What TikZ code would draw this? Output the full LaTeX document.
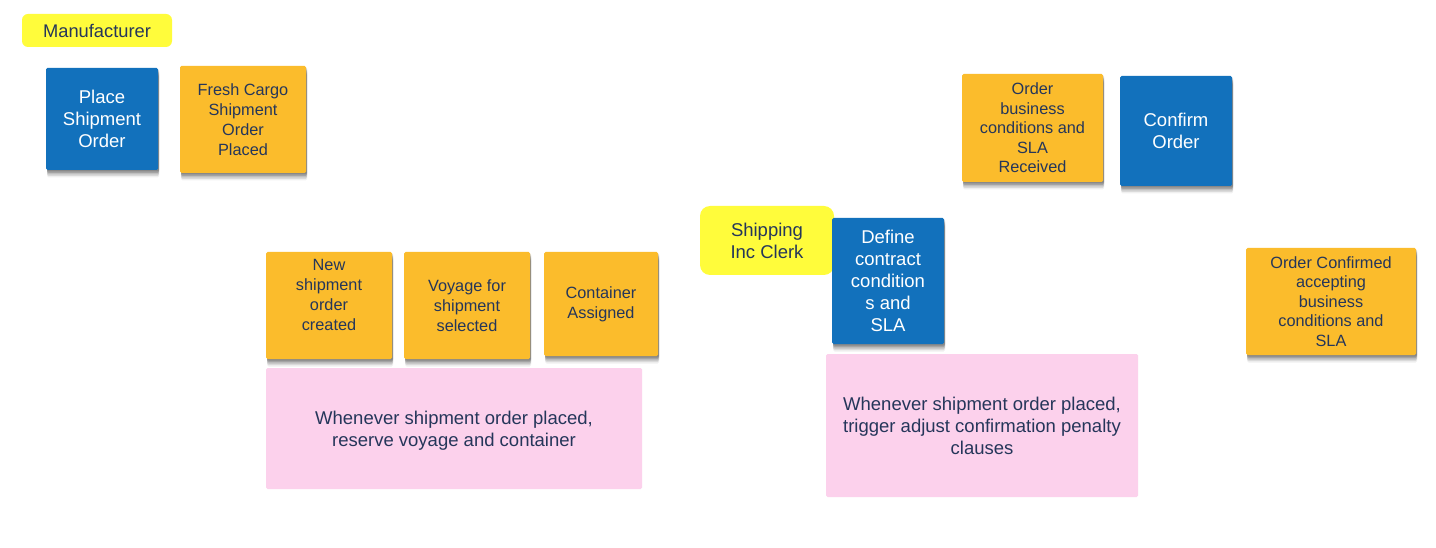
\documentclass[tikz,border=0pt]{standalone}
\usepackage{fontspec}
\setmainfont{Liberation Sans}
\usetikzlibrary{shadows}
\definecolor{stblue}{HTML}{1271BC}
\definecolor{storange}{HTML}{FBBC2C}
\definecolor{styellow}{HTML}{FFFC3B}
\definecolor{stpink}{HTML}{FCD1EC}
\definecolor{navy}{HTML}{25365A}
\tikzset{
  sticky/.style={inner sep=0pt, align=center, rounded corners=1.5pt},
  shad/.style={
    general shadow={fill=black, opacity=0.16, shadow xshift=1pt, shadow yshift=-1.5pt},
    general shadow={fill=black, opacity=0.14, shadow xshift=1pt, shadow yshift=-3pt},
    general shadow={fill=black, opacity=0.12, shadow xshift=1pt, shadow yshift=-4.5pt},
    general shadow={fill=black, opacity=0.09, shadow xshift=1pt, shadow yshift=-6pt},
    general shadow={fill=black, opacity=0.06, shadow xshift=1pt, shadow yshift=-7.5pt}},
  command/.style={sticky, shad, fill=stblue, text=white, font=\fontsize{18.5}{22}\selectfont},
  event/.style={sticky, shad, fill=storange, text=navy, font=\fontsize{16.3}{20}\selectfont},
  actor/.style={sticky, fill=styellow, text=navy, rounded corners=10pt},
  policy/.style={sticky, fill=stpink, text=navy, font=\fontsize{18.5}{22}\selectfont},
}
\begin{document}
\begin{tikzpicture}[x=1pt,y=-1pt]
\useasboundingbox (0,0) rectangle (1436,548);
\fill[white] (0,0) rectangle (1436,548);
% Manufacturer lane
\node[actor, rounded corners=6pt, minimum width=150pt, minimum height=33pt, font=\fontsize{18.3}{22}\selectfont] (manu) at (97,30.5) {Manufacturer};
\node[command, minimum width=112pt, minimum height=102pt] (place) at (102,119) {Place\\Shipment\\Order};
\node[event, minimum width=126pt, minimum height=107pt] (fresh) at (243,119.5) {Fresh Cargo\\Shipment\\Order\\Placed};
% events
\node[event, minimum width=126pt, minimum height=107pt, text depth=22pt] (newso) at (329,305.5) {New\\shipment\\order\\created};
\node[event, minimum width=126pt, minimum height=107pt] (voyage) at (467,305.5) {Voyage for\\shipment\\selected};
\node[event, minimum width=114pt, minimum height=104pt] (cont) at (601,304) {Container\\Assigned};
\node[policy, minimum width=376pt, minimum height=121pt, text height=40.5pt] (pol1) at (454,428.5) {Whenever shipment order placed,\\reserve voyage and container};
% Shipping Inc Clerk
\node[actor, minimum width=134pt, minimum height=69pt, font=\fontsize{18.5}{22}\selectfont] (clerk) at (767,240.5) {Shipping\\Inc Clerk};
\node[command, minimum width=112pt, minimum height=126pt] (define) at (888,281) {Define\\contract\\condition\\s and\\SLA};
\node[policy, minimum width=312pt, minimum height=143pt] (pol2) at (982,425.5) {Whenever shipment order placed,\\trigger adjust confirmation penalty\\clauses};
% right side
\node[event, minimum width=141pt, minimum height=108pt, font=\fontsize{16.3}{19.5}\selectfont] (obc) at (1032.5,128) {Order\\business\\conditions and\\SLA\\Received};
\node[command, minimum width=112pt, minimum height=110pt] (confirm) at (1176,131) {Confirm\\Order};
\node[event, minimum width=170pt, minimum height=107pt, font=\fontsize{16.3}{19.5}\selectfont] (ocf) at (1331,301.5) {Order Confirmed\\accepting\\business\\conditions and\\SLA};
\end{tikzpicture}
\end{document}
